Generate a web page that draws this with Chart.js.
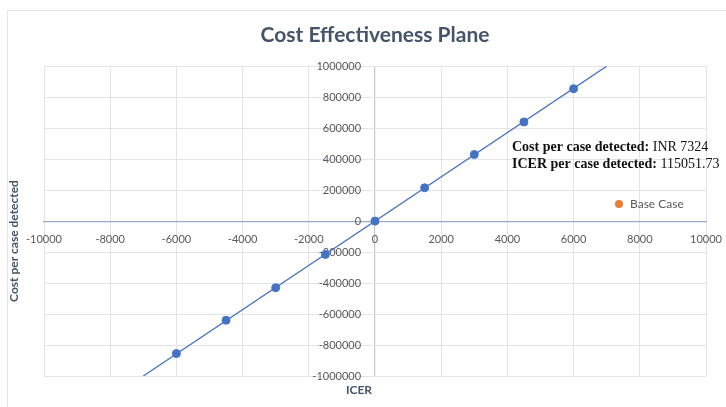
<!DOCTYPE html>
<html>
<head>
<meta charset="utf-8">
<script src="https://cdn.jsdelivr.net/npm/chart.js@4.4.1/dist/chart.umd.min.js"></script>
<style>
  html, body { margin: 0; padding: 0; background: #ffffff; }
  #wrap { width: 726px; height: 407px; position: relative; }
</style>
</head>
<body>
<div id="wrap"><canvas id="c" width="726" height="407"></canvas></div>
<script>
// ---- data ----
const icerValues = [-6000, -4500, -3000, -1500, 0, 1500, 3000, 4500, 6000];
const costValues = [-855000, -640000, -430000, -215000, 0, 215000, 430000, 640000, 855000];
const trendX = [-7000, 7000];
const trendY = [-1000000, 1000000];
const xTicks = [-10000, -8000, -6000, -4000, -2000, 0, 2000, 4000, 6000, 8000, 10000];
const yTicks = [-1000000, -800000, -600000, -400000, -200000, 0, 200000, 400000, 600000, 800000, 1000000];
const chartTitle = 'Cost Effectiveness Plane';
const xTitle = 'ICER';
const yTitle = 'Cost per case detected';
const legendLabel = 'Base Case';
const noteLines = [
  ['Cost per case detected: ', 'INR 7324'],
  ['ICER per case detected: ', '115051.73']
];

const BLUE = '#4472C4';
const ORANGE = '#ED7D31';
const TEXT = '#595959';
const DARK = '#44546A';
const GRID = '#E1E5EB';

const pointsData = icerValues.map((x, i) => ({ x, y: costValues[i] }));
const trendData = trendX.map((x, i) => ({ x, y: trendY[i] }));

const decor = {
  id: 'decor',
  beforeDraw(chart) {
    const ctx = chart.ctx;
    ctx.save();
    ctx.strokeStyle = '#E4E4E4';
    ctx.lineWidth = 1;
    ctx.strokeRect(7.5, 10.5, 740, 420);
    ctx.restore();
  },
  afterDraw(chart) {
    const ctx = chart.ctx;
    const xs = chart.scales.x;
    ctx.save();
    // x axis title
    ctx.fillStyle = DARK;
    ctx.font = 'bold 12px Lato';
    ctx.textAlign = 'center';
    ctx.textBaseline = 'middle';
    ctx.fillText(xTitle, xs.getPixelForValue(0) - 16, 390);
    // y axis title
    ctx.save();
    ctx.translate(14, 241);
    ctx.rotate(-Math.PI / 2);
    ctx.fillText(yTitle, 0, 0);
    ctx.restore();
    // note
    ctx.textAlign = 'left';
    ctx.fillStyle = '#111111';
    const nx = 512;
    noteLines.forEach((ln, i) => {
      const y = 147 + i * 17;
      ctx.font = 'bold 14px "Liberation Serif"';
      ctx.fillText(ln[0], nx, y);
      const w = ctx.measureText(ln[0]).width;
      ctx.font = '14px "Liberation Serif"';
      ctx.fillText(ln[1], nx + w, y);
    });
    // legend
    const ds = chart.data.datasets[2];
    ctx.fillStyle = ds.backgroundColor;
    ctx.beginPath();
    ctx.arc(619, 204, 4, 0, Math.PI * 2);
    ctx.fill();
    ctx.fillStyle = TEXT;
    ctx.font = '12px Lato';
    ctx.fillText(ds.label, 630, 204);
    ctx.restore();
  }
};

const noOverhang = (s) => {
  s.paddingLeft = 0; s.paddingRight = 0; s.paddingTop = 0; s.paddingBottom = 0;
};

new Chart(document.getElementById('c'), {
  type: 'scatter',
  data: {
    datasets: [
      {
        label: 'Points',
        data: pointsData,
        backgroundColor: BLUE,
        borderColor: BLUE,
        pointRadius: 4,
        pointHoverRadius: 4,
        showLine: false,
        order: 1
      },
      {
        label: 'Trend',
        data: trendData,
        showLine: true,
        borderColor: BLUE,
        borderWidth: 1.3,
        pointRadius: 0,
        order: 2
      },
      {
        label: legendLabel,
        data: [],
        backgroundColor: ORANGE,
        borderColor: ORANGE
      }
    ]
  },
  options: {
    responsive: false,
    animation: false,
    layout: { padding: { left: 44, right: 20, top: 15, bottom: 31 } },
    plugins: {
      legend: { display: false },
      tooltip: { enabled: false },
      title: {
        display: true,
        text: chartTitle,
        color: DARK,
        font: { family: 'Lato', size: 21, weight: 'bold' },
        padding: { top: 8, bottom: 18 }
      }
    },
    scales: {
      x: {
        type: 'linear',
        position: { y: 0 },
        min: -10000, max: 10000,
        afterFit: noOverhang,
        afterBuildTicks: (s) => { s.ticks = xTicks.map(v => ({ value: v })); },
        ticks: {
          color: TEXT,
          font: { family: 'Lato', size: 11 },
          padding: 12,
          maxRotation: 0,
          autoSkip: false,
          callback: (v) => String(v)
        },
        grid: {
          color: (c) => (c.tick && c.tick.value === 0 ? '#C3C9D3' : GRID),
          lineWidth: (c) => (c.tick && c.tick.value === 0 ? 1.2 : 1),
          drawTicks: false
        },
        border: { color: '#9AAACB', width: 1.2 }
      },
      y: {
        type: 'linear',
        // labels sit just left of the vertical zero line
        position: { x: -420 },
        min: -1000000, max: 1000000,
        afterFit: noOverhang,
        afterBuildTicks: (s) => { s.ticks = yTicks.map(v => ({ value: v })); },
        ticks: {
          color: TEXT,
          font: { family: 'Lato', size: 11 },
          padding: 0,
          autoSkip: false,
          callback: (v) => String(v)
        },
        grid: { color: GRID, drawTicks: false },
        border: { display: false }
      }
    }
  },
  plugins: [decor]
});
</script>
</body>
</html>
